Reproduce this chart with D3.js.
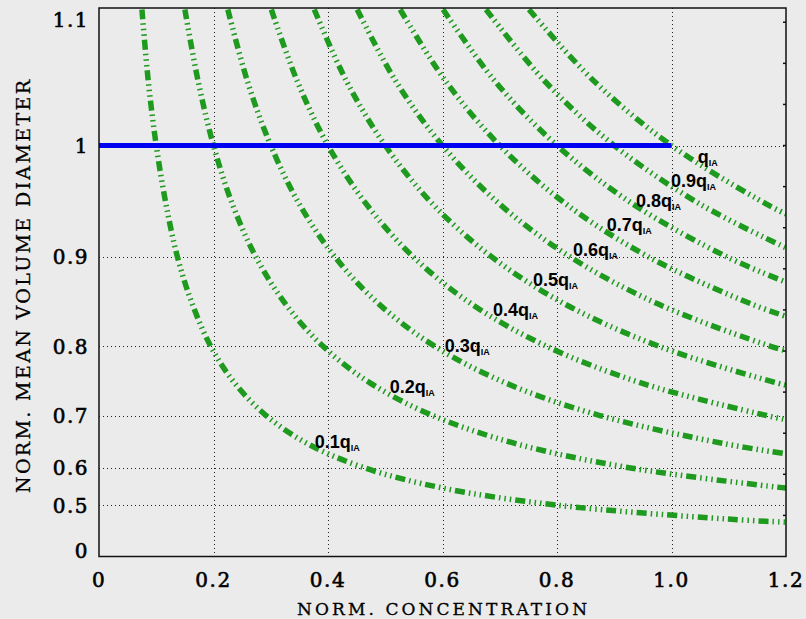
<!DOCTYPE html>
<html>
<head>
<meta charset="utf-8">
<script src="https://cdn.jsdelivr.net/npm/d3@7"></script>
<style>
	html, body { margin:0; padding:0; background:#ebebeb; }
	svg { display:block; }
</style>
</head>
<body>
<svg id="chart" width="806" height="619"></svg>
<script>
"use strict";

// curve levels (fraction of q_IA) and their labels
var levels = [0.1, 0.2, 0.3, 0.4, 0.5, 0.6, 0.7, 0.8, 0.9, 1.0];
var levelLabels = ['0.1q', '0.2q', '0.3q', '0.4q', '0.5q', '0.6q', '0.7q', '0.8q', '0.9q', 'q'];

// diameters at which each curve's concentration was read
var diameters = [1.10, 1.05, 1.00, 0.95, 0.90, 0.85, 0.80, 0.75, 0.70, 0.65, 0.60, 0.55, 0.50, 0.45];
var crossings = [
	[0.075, 0.086, 0.100, 0.117, 0.137, 0.163, 0.195, 0.237, 0.292, 0.364, 0.463, 0.601, 0.800, 1.097],
	[0.150, 0.173, 0.200, 0.233, 0.274, 0.326, 0.391, 0.474, 0.583, 0.728, 0.926],
	[0.225, 0.259, 0.300, 0.350, 0.412, 0.489, 0.586, 0.711, 0.875, 1.092],
	[0.301, 0.346, 0.400, 0.467, 0.549, 0.651, 0.781, 0.948, 1.166],
	[0.376, 0.432, 0.500, 0.583, 0.686, 0.814, 0.977, 1.185],
	[0.451, 0.518, 0.600, 0.700, 0.823, 0.977, 1.172],
	[0.526, 0.605, 0.700, 0.816, 0.960, 1.140],
	[0.601, 0.691, 0.800, 0.933, 1.097],
	[0.676, 0.778, 0.900, 1.050],
	[0.751, 0.864, 1.000, 1.166]
];
// diameter of each curve at the right edge (concentration 1.2)
var edgeDiameters = [0.437, 0.550, 0.630, 0.693, 0.747, 0.794, 0.836, 0.874, 0.909, 0.941];

// label anchors (concentration, diameter)
var labelConc = [0.377, 0.508, 0.604, 0.688, 0.758, 0.828, 0.887, 0.938, 0.999, 1.046];
var labelDiam = [0.642, 0.736, 0.793, 0.836, 0.870, 0.901, 0.925, 0.947, 0.965, 0.986];

// reference line
var refDiameter = 1.0;
var refConc = [0, 1.0];

// axes
var xTicks = [0, 0.2, 0.4, 0.6, 0.8, 1.0, 1.2];
var xTickLabels = ['0', '0.2', '0.4', '0.6', '0.8', '1.0', '1.2'];
var yTicks = [0, 0.5, 0.6, 0.7, 0.8, 0.9, 1, 1.1];
var yTickLabels = ['0', '0.5', '0.6', '0.7', '0.8', '0.9', '1', '1.1'];
var rightTicks = [0.1, 0.2, 0.3, 0.4, 0.5, 0.6, 0.7, 0.8, 0.9, 1.0, 1.1, 1.2, 1.3]; // in diameter^3

var plotLeft = 99, plotRight = 786, plotTop = 8, plotBottom = 556.5;
var green = '#1e9a1e';

var svg = d3.select('#chart');

var x = d3.scaleLinear().domain([0, 1.2]).range([plotLeft, plotRight]);
var y = d3.scalePow().exponent(3).domain([0, 1.1]).range([plotBottom, plotTop + 1.5]);

svg.append('defs').append('clipPath').attr('id', 'plotclip')
	.append('rect')
		.attr('x', plotLeft).attr('y', plotTop)
		.attr('width', plotRight - plotLeft).attr('height', plotBottom - plotTop);

//*-*-*-*-*-*-*-*-*-*-*-*-*-*
// grid (dotted)
//*-*-*-*-*-*-*-*-*-*-*-*-*-*
var grid = svg.append('g')
	.attr('stroke', '#222')
	.attr('stroke-width', 1)
	.attr('stroke-dasharray', '1,3');
grid.selectAll('.vgrid')
	.data(xTicks.filter(function(d){ return d > 0 && d < 1.2; })).enter()
	.append('line')
		.attr('x1', function(d){ return Math.round(x(d)) + 0.5; })
		.attr('x2', function(d){ return Math.round(x(d)) + 0.5; })
		.attr('y1', plotTop).attr('y2', plotBottom);
grid.selectAll('.hgrid')
	.data(yTicks.filter(function(d){ return d > 0 && d < 1.1; })).enter()
	.append('line')
		.attr('x1', plotLeft).attr('x2', plotRight)
		.attr('y1', function(d){ return Math.round(y(d)) + 0.5; })
		.attr('y2', function(d){ return Math.round(y(d)) + 0.5; });

//*-*-*-*-*-*-*-*-*-*-*-*-*-*
// curves
//*-*-*-*-*-*-*-*-*-*-*-*-*-*
var line = d3.line()
	.x(function(p){ return x(p[0]); })
	.y(function(p){ return y(p[1]); })
	.curve(d3.curveCatmullRom.alpha(0.5));

var curves = levels.map(function(q, i)
{
	var pts = crossings[i].map(function(c, j){ return [c, diameters[j]]; });
	pts.push([1.2, edgeDiameters[i]]);
	return pts;
});

svg.append('g').attr('clip-path', 'url(#plotclip)')
	.selectAll('path')
	.data(curves).enter()
	.append('path')
		.attr('d', line)
		.attr('fill', 'none')
		.attr('stroke', green)
		.attr('stroke-width', 5.5)
		.attr('stroke-dasharray', '10,4,1.5,4,1.5,4,1.5,4');

// blue reference line
svg.append('line')
	.attr('x1', x(refConc[0])).attr('x2', x(refConc[1]))
	.attr('y1', y(refDiameter)).attr('y2', y(refDiameter))
	.attr('stroke', '#0000f0')
	.attr('stroke-width', 5);

//*-*-*-*-*-*-*-*-*-*-*-*-*-*
// curve labels
//*-*-*-*-*-*-*-*-*-*-*-*-*-*
var labels = svg.append('g')
	.attr('font-family', '"Liberation Sans", Arial, sans-serif')
	.attr('font-weight', 'bold')
	.attr('fill', '#000');
levels.forEach(function(q, i)
{
	var t = labels.append('text')
		.attr('x', x(labelConc[i]))
		.attr('y', y(labelDiam[i]))
		.attr('font-size', 18);
	t.append('tspan').text(levelLabels[i]);
	t.append('tspan').attr('font-size', 9).attr('dy', 3).text('IA');
});

//*-*-*-*-*-*-*-*-*-*-*-*-*-*
// frame + right ticks
//*-*-*-*-*-*-*-*-*-*-*-*-*-*
svg.append('rect')
	.attr('x', plotLeft).attr('y', plotTop)
	.attr('width', plotRight - plotLeft).attr('height', plotBottom - plotTop)
	.attr('fill', 'none')
	.attr('stroke', '#111')
	.attr('stroke-width', 1.5);
svg.append('g').selectAll('line')
	.data(rightTicks).enter()
	.append('line')
		.attr('x1', plotRight - 3).attr('x2', plotRight)
		.attr('y1', function(d){ return y(Math.cbrt(d)); })
		.attr('y2', function(d){ return y(Math.cbrt(d)); })
		.attr('stroke', '#111')
		.attr('stroke-width', 1.5);

//*-*-*-*-*-*-*-*-*-*-*-*-*-*
// tick labels
//*-*-*-*-*-*-*-*-*-*-*-*-*-*
var tickFont = '"DejaVu Serif", serif';
svg.append('g').selectAll('text')
	.data(xTicks).enter()
	.append('text')
		.attr('x', function(d){ return x(d); })
		.attr('y', 587)
		.attr('text-anchor', 'middle')
		.attr('font-family', tickFont)
		.attr('font-size', 20)
		.attr('letter-spacing', 1.5)
		.attr('stroke', '#000')
		.attr('stroke-width', 0.6)
		.text(function(d, i){ return xTickLabels[i]; });
svg.append('g').selectAll('text')
	.data(yTicks).enter()
	.append('text')
		.attr('x', 89)
		.attr('y', function(d)
		{
			var off = 7.5;
			if(d == 0) off = 1;
			else if(d == 1.1) off = 17.5;
			return y(d) + off;
		})
		.attr('text-anchor', 'end')
		.attr('font-family', tickFont)
		.attr('font-size', 20)
		.attr('letter-spacing', 1.5)
		.attr('stroke', '#000')
		.attr('stroke-width', 0.6)
		.text(function(d, i){ return yTickLabels[i]; });

//*-*-*-*-*-*-*-*-*-*-*-*-*-*
// axis titles
//*-*-*-*-*-*-*-*-*-*-*-*-*-*
svg.append('text')
	.attr('x', 297).attr('y', 615)
	.attr('font-family', '"DejaVu Serif", serif')
	.attr('font-size', 17)
	.attr('stroke', '#000')
	.attr('stroke-width', 0.3)
	.attr('textLength', 290)
	.attr('lengthAdjust', 'spacing')
	.text('NORM. CONCENTRATION');
svg.append('text')
	.attr('transform', 'translate(30,493) rotate(-90)')
	.attr('font-family', '"DejaVu Serif", serif')
	.attr('font-size', 19)
	.attr('stroke', '#000')
	.attr('stroke-width', 0.3)
	.attr('textLength', 413)
	.attr('lengthAdjust', 'spacing')
	.text('NORM. MEAN VOLUME DIAMETER');
</script>
</body>
</html>
